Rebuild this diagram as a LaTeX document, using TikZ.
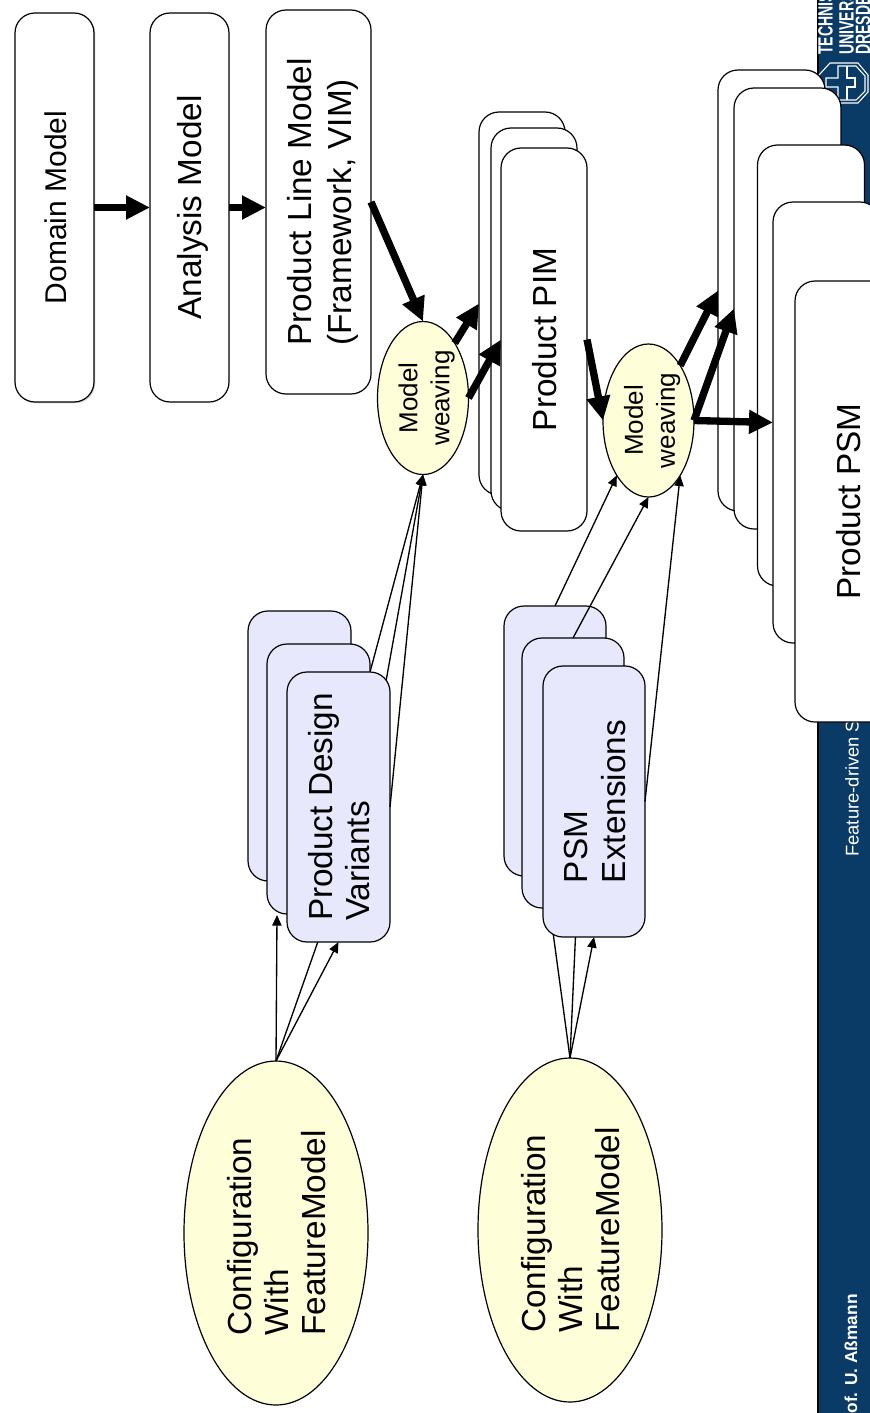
\documentclass[tikz,border=0pt]{standalone}
\usepackage{fontspec}
\setmainfont{Liberation Sans}
\usetikzlibrary{arrows.meta,shapes.geometric,shadows}

\definecolor{sidebarblue}{HTML}{0A3A66}
\definecolor{boxlavender}{HTML}{E8E8FC}
\definecolor{ellipseyellow}{HTML}{FEFED8}

% text of the nodes reads from bottom to top
\newcommand{\rottext}[2][l]{\rotatebox{90}{\raisebox{-0.15em}[\height][\depth]{\begin{tabular}{@{}#1@{}}#2\end{tabular}}}}

\tikzset{
    boxsize/.style 2 args={minimum width=#1*0.75pt,minimum height=#2*0.75pt},
    modelbox/.style={draw,fill=white,line width=0.9pt,rounded corners=15pt,inner sep=0pt,outer sep=0pt,
        font=\fontsize{25}{28}\selectfont},
    variantbox/.style={modelbox,fill=boxlavender},
    configell/.style={ellipse,draw,fill=ellipseyellow,line width=0.9pt,inner sep=0pt,outer sep=0pt,
        boxsize={184}{344},font=\fontsize{25}{28}\selectfont},
    weaveell/.style={ellipse,draw,fill=ellipseyellow,line width=0.9pt,inner sep=0pt,outer sep=0pt,
        boxsize={91}{153},font=\fontsize{19.5}{24}\selectfont},
    thinarrow/.style={line width=1pt,-{Triangle[length=8pt,width=7pt]}},
    thinline/.style={line width=1pt},
    thickarrow/.style={line width=5.5pt,-{Triangle[length=18pt,width=17pt]}},
    sidetext/.style={text=white,rotate=90,anchor=west,inner sep=0pt}
}

\begin{document}
\begin{tikzpicture}[x=0.75pt,y=-0.75pt]
    \useasboundingbox (0,0) rectangle (870,1413);
    \clip (0,0) rectangle (870,1413);

    % sidebar
    \fill[sidebarblue] (818,0) rectangle (870,1413);
    \draw[line width=0.9pt] (818,0) -- (818,1413);
    \node[sidetext,font=\bfseries\fontsize{15.5}{15.5}\selectfont] (tuA) at (825.5,55) {\scalebox{0.68}[1]{TECHNISCHE}};
    \node[sidetext,font=\bfseries\fontsize{15.5}{15.5}\selectfont] (tuB) at (845,55) {\scalebox{0.68}[1]{UNIVERSITÄT}};
    \node[sidetext,font=\bfseries\fontsize{15.5}{15.5}\selectfont] (tuC) at (863,55) {\scalebox{0.68}[1]{DRESDEN}};
    \node[sidetext,font=\fontsize{13.8}{15}\selectfont] (footer) at (852,857) {Feature-driven S};
    \node[sidetext,font=\bfseries\fontsize{13}{15}\selectfont] (lecturer) at (851,1432) {Prof. U. Aßmann};
    % logo
    \draw[white,line width=0.8pt] (830,63)--(858,63)--(868,75)--(868,92)--(858,103)--(830,103)--(819,92)--(819,75)--cycle;
    \draw[white,line width=0.8pt] (838,66)--(856,66)--(865,76)--(865,91)--(856,100)--(838,100)--(838,87)--(826,87)--(826,78)--(838,78)--cycle;
    \draw[white,line width=0.8pt] (847,66)--(847,78)--(855,78)--(855,87)--(847,87)--(847,100);

    \node[configell] (configA) at (276,1233) {\rottext{Configuration\\With\\FeatureModel}};
    \node[configell] (configB) at (570,1230) {\rottext{Configuration\\With\\FeatureModel}};
    \node[weaveell] (weaveA) at (423,398) {\rottext[c]{Model\\weaving}};
    \node[weaveell] (weaveB) at (648.5,420.5) {\rottext[c]{Model\\weaving}};

    % these ends lie behind the front boxes
    \coordinate (dvEndA) at (277,915);
    \coordinate (dvEndB) at (322,930);
    \coordinate (dvEndC) at (366,687);
    \coordinate (dvEndD) at (383,698);
    \coordinate (extEndA) at (552,925);
    \coordinate (extEndB) at (576,925);
    \draw[thinarrow] (configA.north) -- (dvEndA);
    \draw[thinline] (configA.north) -- (dvEndB);
    \draw[thinline] (configB.north) -- (extEndA);
    \draw[thinline] (configB.north) -- (extEndB);
    \draw[thinarrow] (dvEndC) -- (weaveA.south);
    \draw[thinarrow] (dvEndD) -- (weaveA.south);

    \node[modelbox,boxsize={79}{389},drop shadow={opacity=0.3,shadow xshift=1pt,shadow yshift=-1pt}] (domain) at (54.5,207.5) {\fontsize{22.5}{27}\selectfont\rottext{Domain Model}};
    \node[modelbox,boxsize={79}{389}] (analysis) at (189.5,207.5) {\rottext{Analysis Model}};
    \node[modelbox,boxsize={105}{384}] (plm) at (318.5,202) {\fontsize{25}{30.5}\selectfont\rottext{Product Line Model\\(Framework, VIM)}};

    \node[modelbox,boxsize={86}{383}] (pimA) at (522,303.5) {};
    \node[modelbox,boxsize={86}{383}] (pimB) at (534,319.5) {};
    \node[modelbox,boxsize={86}{383}] (pimC) at (544,339.5) {\rottext{Product PIM}};

    \node[variantbox,boxsize={103}{270}] (dvA) at (299.5,746) {};
    \node[variantbox,boxsize={103}{270}] (dvB) at (318.5,779) {};
    \node[variantbox,boxsize={103}{270}] (dvC) at (338.5,807) {\rottext{Product Design\\Variants}};

    \node[variantbox,boxsize={102}{270}] (extA) at (555,741) {};
    \node[variantbox,boxsize={102}{270}] (extB) at (573,773) {};
    \node[variantbox,boxsize={102}{271}] (extC) at (594,801.5) {\rottext{PSM\\Extensions}};

    \node[modelbox,boxsize={107}{441}] (psmA) at (771.5,290.5) {};
    \node[modelbox,boxsize={107}{441}] (psmB) at (787.5,308.5) {};
    \node[modelbox,boxsize={107}{441}] (psmC) at (811,365.5) {};
    \node[modelbox,boxsize={107}{441}] (psmD) at (826.5,422.5) {};
    \node[modelbox,boxsize={107}{441}] (psmE) at (848.5,501.5) {\rottext{Product PSM}};

    \draw[thinarrow] (configA.north) -- (dvC.south);
    \draw[thinarrow] (configB.north) -- (extC.south);
    \draw[thinarrow] (dvC.east) -- (weaveA.south);
    \draw[thinarrow] (extA.north) -- (weaveB.-120);
    \draw[thinarrow] (extB.north) -- (weaveB.south);
    \draw[thinarrow] (extC.east) -- (weaveB.-60);

    \draw[thickarrow] (domain.east) -- (analysis.west);
    \draw[thickarrow] (analysis.east) -- (analysis.east -| plm.west);
    \draw[thickarrow] (plm.east) -- (weaveA.north);
    \draw[thickarrow] (weaveA.60) -- (pimA.west);
    \draw[thickarrow] (weaveA.east) -- (pimC.west);
    \draw[thickarrow] (pimC.east) -- (weaveB.west);
    \draw[thickarrow] (weaveB.60) -- (psmA.west);
    \draw[thickarrow] (weaveB.east) -- (psmB.west);
    \draw[thickarrow] (weaveB.east) -- (psmD.west);
\end{tikzpicture}
\end{document}
